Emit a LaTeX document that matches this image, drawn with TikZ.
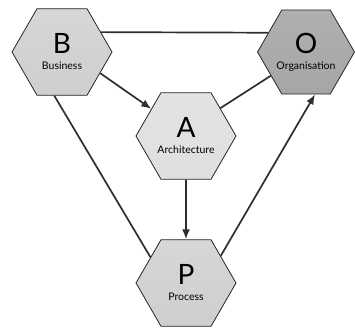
\documentclass[tikz,border=0pt]{standalone}
\usepackage{fontspec}
\setmainfont{Lato}
\usepackage{tikz}
\usetikzlibrary{shapes.geometric}
\usetikzlibrary{arrows.meta}
\tikzstyle{hexa} = [draw=black!85, line width=0.8pt, regular polygon,
    regular polygon sides=6, minimum size=100pt, inner sep=0pt, align=center,
    top color=gray!32, middle color=gray!20, bottom color=gray!38]
\tikzstyle{hexadark} = [hexa, top color=gray!62, middle color=gray!58, bottom color=gray!70]
\tikzstyle{link} = [draw=black!82, line width=1.7pt]
\tikzstyle{flow} = [link, -{Latex[length=10pt,width=8pt]}]
\newcommand{\hexlabel}[2]{{\fontsize{28}{28}\selectfont #1}\\[4pt]{\fontsize{10.5}{12}\selectfont #2}}

\begin{document}
\begin{tikzpicture}[x=1pt,y=-1pt]
    \useasboundingbox (0,0) rectangle (355,327);

    \node [hexa] at (62,52) (business) {\hexlabel{B}{Business}};
    \node [hexadark, minimum size=97pt] at (306,52) (organisation) {\hexlabel{O}{Organisation}};
    \node [hexa, top color=gray!22, middle color=gray!12, bottom color=gray!25] at (186,136) (architecture) {\hexlabel{A}{Architecture}};
    \node [hexa] at (186,283) (process) {\hexlabel{P}{Process}};

    \draw [link] (business.27) -- (organisation.153);
    \draw [flow] (business.331) -- (architecture.142);
    \draw [link] (architecture.39) -- (organisation.214);
    \draw [flow] (architecture.south) -- (process.north);
    \draw [link] (business.260) -- (process.144);
    \draw [flow] (process.38) -- (organisation.282);
\end{tikzpicture}
\end{document}
